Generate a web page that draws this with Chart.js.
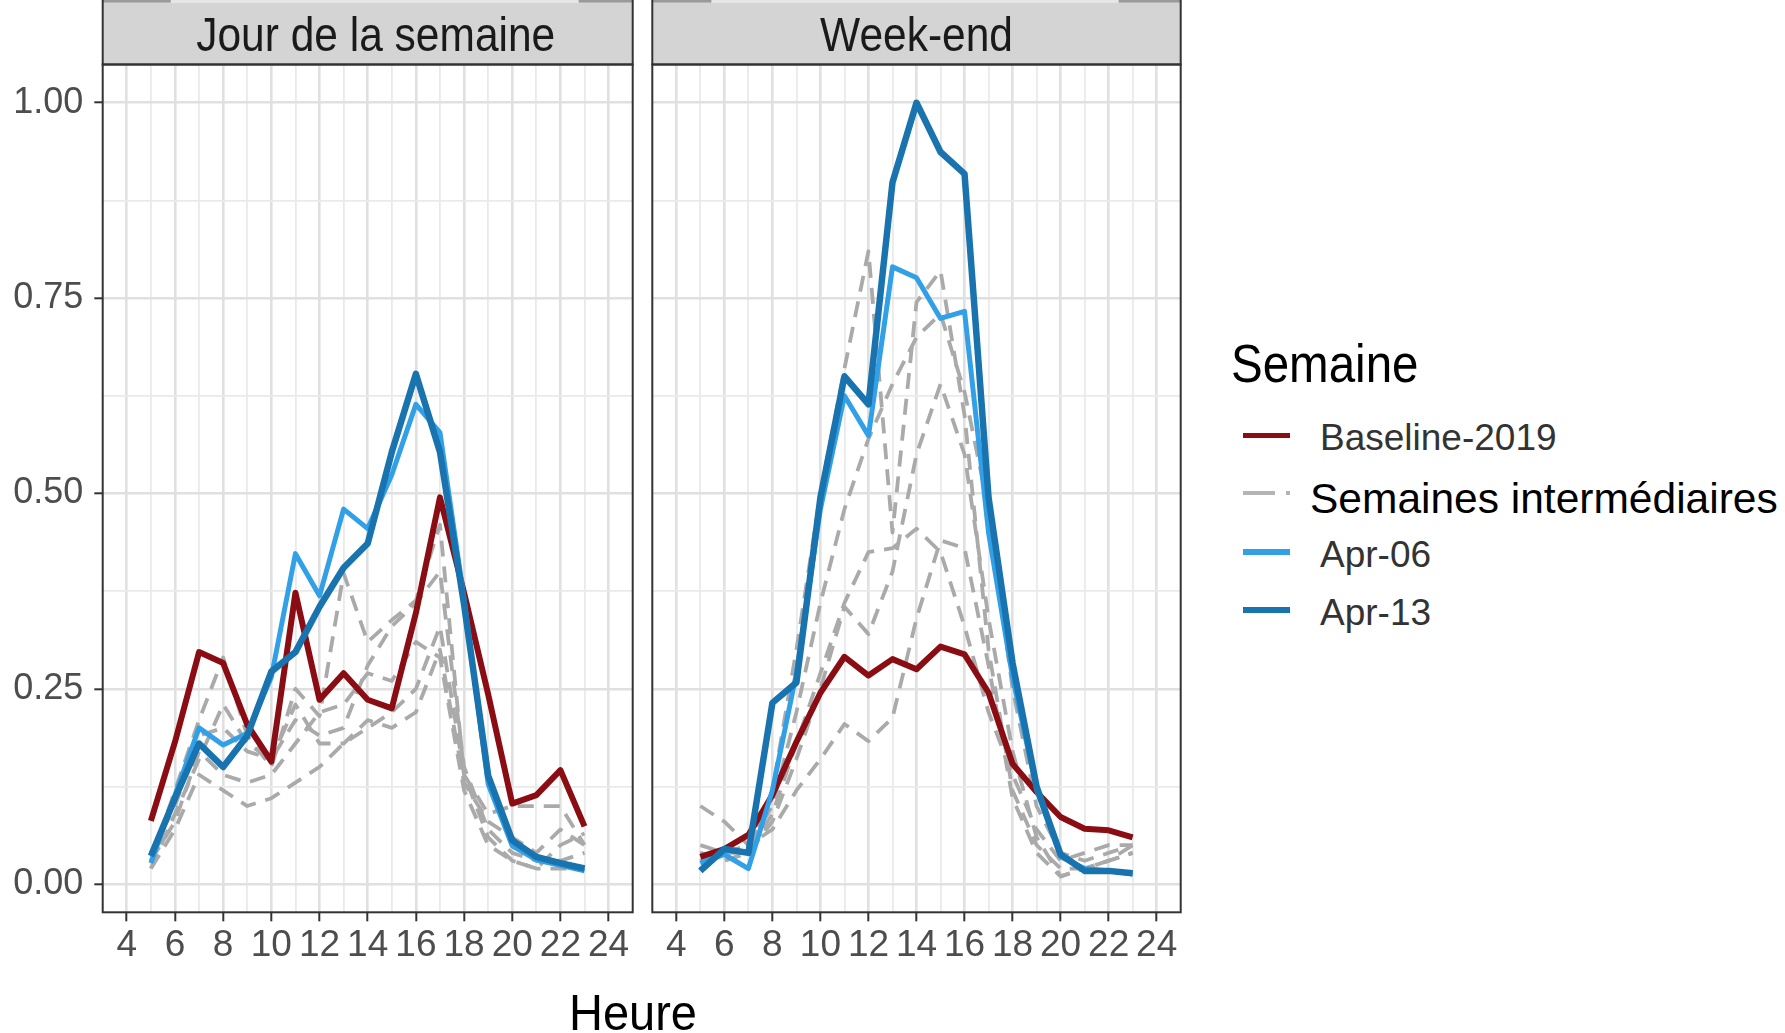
<!DOCTYPE html>
<html lang="fr">
<head>
<meta charset="UTF-8">
<title>Semaine</title>
<script src="https://cdn.jsdelivr.net/npm/chart.js@4"></script>
<style>
  body { margin: 0; width: 1785px; height: 1033px; background: #fff; position: relative; overflow: hidden;
         font-family: "Liberation Sans", Arial, sans-serif; }
  .abs { position: absolute; white-space: nowrap; line-height: 1; }
  .key { position: absolute; }
</style>
</head>
<body>
<canvas id="wdChart" width="640" height="1033" style="position:absolute;left:0;top:0"></canvas>
<canvas id="weChart" width="560" height="1033" style="position:absolute;left:640px;top:0"></canvas>

<div class="abs" style="left:1231px;top:341.8px;font-size:47.5px;color:#000;transform:scaleY(1.13);transform-origin:0 40.2px">Semaine</div>

<div class="key" style="left:1243px;top:432.5px;width:47px;height:5.5px;background:#8b0d14"></div>
<div class="abs" style="left:1320px;top:418.7px;font-size:37px;color:#333">Baseline-2019</div>

<div class="key" style="left:1243px;top:491px;width:32px;height:3.5px;background:#b4b4b4"></div>
<div class="key" style="left:1286px;top:491px;width:4px;height:3.5px;background:#b4b4b4"></div>
<div class="abs" style="left:1310px;top:478px;font-size:42.5px;color:#000">Semaines intermédiaires</div>

<div class="key" style="left:1243px;top:549px;width:47px;height:5.5px;background:#32a0e6"></div>
<div class="abs" style="left:1320px;top:535.7px;font-size:37px;color:#333">Apr-06</div>

<div class="key" style="left:1243px;top:607px;width:47px;height:6px;background:#1973af"></div>
<div class="abs" style="left:1320px;top:593.7px;font-size:37px;color:#333">Apr-13</div>

<div class="abs" style="left:433px;width:400px;text-align:center;top:990.2px;font-size:47px;color:#000;transform:scaleY(1.07);transform-origin:50% 39.8px">Heure</div>

<script>
// hours shown on the x axis
const hours = [5, 6, 7, 8, 9, 10, 11, 12, 13, 14, 15, 16, 17, 18, 19, 20, 21, 22, 23];

// Jour de la semaine
const wdBaseline = [0.081, 0.182, 0.297, 0.283, 0.204, 0.157, 0.373, 0.236, 0.270, 0.236, 0.225, 0.347, 0.495, 0.373, 0.243, 0.103, 0.114, 0.146, 0.074];
const wdApr06    = [0.027, 0.114, 0.200, 0.178, 0.193, 0.265, 0.423, 0.369, 0.480, 0.455, 0.524, 0.614, 0.578, 0.365, 0.128, 0.049, 0.031, 0.024, 0.017];
const wdApr13    = [0.036, 0.110, 0.180, 0.150, 0.190, 0.272, 0.297, 0.355, 0.405, 0.436, 0.553, 0.653, 0.553, 0.358, 0.139, 0.056, 0.035, 0.027, 0.020];
const wdInter1   = [0.030, 0.120, 0.210, 0.290, 0.190, 0.150, 0.250, 0.215, 0.398, 0.310, 0.338, 0.363, 0.460, 0.140, 0.090, 0.100, 0.100, 0.100, 0.050];
const wdInter2   = [0.020, 0.090, 0.160, 0.230, 0.180, 0.160, 0.210, 0.190, 0.200, 0.280, 0.330, 0.360, 0.400, 0.150, 0.070, 0.040, 0.030, 0.030, 0.040];
const wdInter3   = [0.020, 0.070, 0.140, 0.120, 0.100, 0.110, 0.130, 0.150, 0.180, 0.200, 0.220, 0.250, 0.330, 0.140, 0.060, 0.030, 0.020, 0.020, 0.020];
const wdInter4   = [0.030, 0.080, 0.170, 0.140, 0.130, 0.140, 0.180, 0.220, 0.230, 0.270, 0.260, 0.310, 0.290, 0.120, 0.050, 0.030, 0.020, 0.050, 0.065];
const wdInter5   = [0.040, 0.100, 0.190, 0.200, 0.170, 0.160, 0.230, 0.180, 0.180, 0.210, 0.200, 0.220, 0.300, 0.130, 0.080, 0.060, 0.040, 0.070, 0.050];

// Week-end
const weBaseline = [0.035, 0.045, 0.063, 0.114, 0.182, 0.245, 0.291, 0.267, 0.288, 0.275, 0.304, 0.294, 0.245, 0.154, 0.118, 0.086, 0.071, 0.069, 0.060];
const weApr06    = [0.027, 0.038, 0.020, 0.120, 0.270, 0.480, 0.625, 0.574, 0.790, 0.776, 0.724, 0.733, 0.450, 0.265, 0.121, 0.035, 0.020, 0.017, 0.013];
const weApr13    = [0.017, 0.045, 0.040, 0.232, 0.258, 0.495, 0.650, 0.614, 0.898, 1.000, 0.937, 0.909, 0.495, 0.283, 0.125, 0.038, 0.017, 0.017, 0.014];
const weInter1   = [0.040, 0.030, 0.040, 0.120, 0.300, 0.500, 0.660, 0.810, 0.450, 0.745, 0.785, 0.600, 0.300, 0.120, 0.050, 0.020, 0.020, 0.030, 0.050];
const weInter2   = [0.030, 0.040, 0.050, 0.100, 0.220, 0.360, 0.480, 0.570, 0.640, 0.700, 0.730, 0.630, 0.480, 0.250, 0.100, 0.040, 0.030, 0.040, 0.050];
const weInter3   = [0.050, 0.040, 0.040, 0.090, 0.180, 0.270, 0.360, 0.425, 0.430, 0.455, 0.425, 0.330, 0.220, 0.140, 0.070, 0.030, 0.040, 0.050, 0.050];
const weInter4   = [0.040, 0.030, 0.040, 0.080, 0.160, 0.250, 0.355, 0.320, 0.400, 0.550, 0.640, 0.550, 0.340, 0.170, 0.060, 0.010, 0.020, 0.030, 0.040];
const weInter5   = [0.100, 0.080, 0.050, 0.070, 0.120, 0.160, 0.205, 0.183, 0.213, 0.340, 0.440, 0.430, 0.280, 0.110, 0.040, 0.010, 0.020, 0.030, 0.040];

const xTicks = [4, 5, 6, 7, 8, 9, 10, 11, 12, 13, 14, 15, 16, 17, 18, 19, 20, 21, 22, 23, 24];
const yTicks = [0, 0.125, 0.25, 0.375, 0.5, 0.625, 0.75, 0.875, 1];

const RED = '#8b0d14', LIGHT = '#32a0e6', DARK = '#1973af', GREY = '#aaaaaa';

Chart.defaults.font.family = '"Liberation Sans", Arial, sans-serif';

function line(label, values, color, width, dash, order) {
    return {
        label: label,
        data: hours.map((h, i) => ({ x: h, y: values[i] })),
        borderColor: color,
        borderWidth: width,
        borderDash: dash || [],
        borderJoinStyle: 'round',
        pointRadius: 0,
        tension: 0,
        fill: false,
        order: order
    };
}

const isMajorX = v => v % 2 === 0;
const isMajorY = v => Math.abs(v / 0.25 - Math.round(v / 0.25)) < 1e-6;

// panel border + grey strip with the facet name
const panelFrame = {
    id: 'panelFrame',
    afterDraw(chart, args, opts) {
        const ctx = chart.ctx, a = chart.chartArea;
        const w = a.right - a.left;
        ctx.save();
        ctx.fillStyle = '#d4d4d4';
        ctx.fillRect(a.left, 0, w, a.top);
        ctx.fillStyle = '#e6e6e6';
        ctx.fillRect(a.left + opts.edgeL, 0, w - opts.edgeL - opts.edgeR, 3);
        ctx.fillStyle = '#9a9a9a';
        ctx.fillRect(a.left, 0, opts.edgeL, 2.5);
        ctx.fillRect(a.right - opts.edgeR, 0, opts.edgeR, 2.5);
        ctx.strokeStyle = '#333333';
        ctx.lineWidth = 2;
        ctx.strokeRect(a.left, -5, w, a.top + 5);
        ctx.strokeRect(a.left, a.top, w, a.bottom - a.top);
        ctx.fillStyle = '#1a1a1a';
        ctx.font = '42.5px "Liberation Sans", Arial, sans-serif';
        ctx.textAlign = 'center';
        ctx.textBaseline = 'alphabetic';
        ctx.translate((a.left + a.right) / 2 + opts.shift, 51);
        ctx.scale(1, 1.15);
        ctx.fillText(opts.label, 0, 0);
        ctx.restore();
    }
};

function makeChart(id, title, sets, yWidth, pad, edges, shift, showY) {
    const ctx = document.getElementById(id).getContext('2d');
    return new Chart(ctx, {
        type: 'line',
        data: { datasets: sets },
        options: {
            responsive: false,
            animation: false,
            layout: { padding: pad },
            plugins: {
                legend: { display: false },
                tooltip: { enabled: false },
                panelFrame: { label: title, edgeL: edges[0], edgeR: edges[1], shift: shift }
            },
            scales: {
                x: {
                    type: 'linear',
                    min: 3,
                    max: 25,
                    afterBuildTicks: s => { s.ticks = xTicks.map(v => ({ value: v })); },
                    afterFit: s => { s.height = 120.7; },
                    border: { display: false },
                    grid: {
                        color: c => isMajorX(c.tick.value) ? '#e0e0e0' : '#eaeaea',
                        lineWidth: c => isMajorX(c.tick.value) ? 2.6 : 1.8,
                        tickColor: c => isMajorX(c.tick.value) ? '#333333' : 'rgba(0,0,0,0)',
                        tickWidth: 2,
                        tickLength: 9
                    },
                    ticks: {
                        autoSkip: false,
                        maxRotation: 0,
                        minRotation: 0,
                        padding: 2,
                        color: '#4d4d4d',
                        font: { size: 37 },
                        callback: v => isMajorX(v) ? String(v) : ''
                    }
                },
                y: {
                    type: 'linear',
                    min: -0.036,
                    max: 1.049,
                    afterBuildTicks: s => { s.ticks = yTicks.map(v => ({ value: v })); },
                    afterFit: s => { s.width = yWidth; },
                    border: { display: false },
                    grid: {
                        color: c => isMajorY(c.tick.value) ? '#e0e0e0' : '#eaeaea',
                        lineWidth: c => isMajorY(c.tick.value) ? 2.6 : 1.8,
                        tickColor: c => isMajorY(c.tick.value) ? '#333333' : 'rgba(0,0,0,0)',
                        tickWidth: 2,
                        tickLength: 8.4,
                        drawTicks: showY
                    },
                    ticks: {
                        display: showY,
                        padding: 11,
                        color: '#4d4d4d',
                        font: { size: 36 },
                        callback: v => isMajorY(v) ? v.toFixed(2) : ''
                    }
                }
            }
        },
        plugins: [panelFrame]
    });
}

const dash = [16, 10];

makeChart('wdChart', 'Jour de la semaine', [
    line('Apr-13', wdApr13, DARK, 6.5, null, 0),
    line('Apr-06', wdApr06, LIGHT, 5, null, 1),
    line('Baseline-2019', wdBaseline, RED, 6, null, 2),
    line('Semaines intermédiaires', wdInter1, GREY, 3.8, dash, 3),
    line('Semaines intermédiaires', wdInter2, GREY, 3.8, dash, 3),
    line('Semaines intermédiaires', wdInter3, GREY, 3.8, dash, 3),
    line('Semaines intermédiaires', wdInter4, GREY, 3.8, dash, 3),
    line('Semaines intermédiaires', wdInter5, GREY, 3.8, dash, 3)
], 102.7, { top: 64.5, right: 7.3, left: 0, bottom: 0 }, [68, 54], 8, true);

makeChart('weChart', 'Week-end', [
    line('Apr-13', weApr13, DARK, 6.5, null, 0),
    line('Apr-06', weApr06, LIGHT, 5, null, 1),
    line('Baseline-2019', weBaseline, RED, 6, null, 2),
    line('Semaines intermédiaires', weInter1, GREY, 3.8, dash, 3),
    line('Semaines intermédiaires', weInter2, GREY, 3.8, dash, 3),
    line('Semaines intermédiaires', weInter3, GREY, 3.8, dash, 3),
    line('Semaines intermédiaires', weInter4, GREY, 3.8, dash, 3),
    line('Semaines intermédiaires', weInter5, GREY, 3.8, dash, 3)
], 0, { top: 64.5, right: 19.3, left: 12.3, bottom: 0 }, [59, 62], 0, false);
</script>
</body>
</html>
